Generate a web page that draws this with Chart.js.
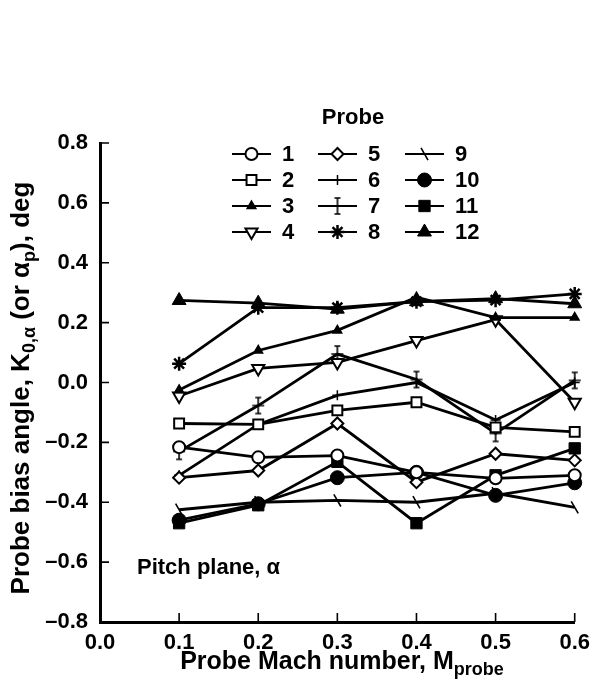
<!DOCTYPE html>
<html>
<head>
<meta charset="utf-8">
<title>Probe bias angle</title>
<script src="https://cdn.jsdelivr.net/npm/chart.js@4/dist/chart.umd.min.js"></script>
<style>
  body { margin: 0; background: #fff; }
  canvas { display: block; }
</style>
</head>
<body>
<canvas id="graphiqueSonde" width="598" height="687"></canvas>
<script>
// nombres de Mach des sondes (axe x)
const machProbe = [0.1, 0.2, 0.3, 0.4, 0.5, 0.6];

// angle de biais par sonde, deg (plan de tangage)
const probe1  = [-0.216, -0.250, -0.244, -0.300, -0.320, -0.310];
const probe2  = [-0.137, -0.140, -0.093, -0.066, -0.150, -0.165];
const probe3  = [-0.025,  0.107,  0.174,  0.285,  0.217,  0.217];
const probe4  = [-0.045,  0.047,  0.067,  0.140,  0.210, -0.066];
const probe5  = [-0.318, -0.294, -0.137, -0.333, -0.238, -0.260];
const probe6  = [-0.310, -0.140, -0.043,  0.000, -0.125,  0.000];
const probe7  = [-0.230, -0.077,  0.095,  0.010, -0.170,  0.007];
const probe8  = [ 0.063,  0.250,  0.250,  0.270,  0.275,  0.296];
const probe9  = [-0.425, -0.400, -0.394, -0.400, -0.370, -0.417];
const probe10 = [-0.460, -0.405, -0.318, -0.300, -0.377, -0.335];
const probe11 = [-0.470, -0.410, -0.265, -0.470, -0.310, -0.220];
const probe12 = [ 0.274,  0.265,  0.245,  0.270,  0.280,  0.263];

const probeNames = ['1', '2', '3', '4', '5', '6', '7', '8', '9', '10', '11', '12'];
const probeValues = [probe1, probe2, probe3, probe4, probe5, probe6,
                     probe7, probe8, probe9, probe10, probe11, probe12];

const police = '"Liberation Sans", Arial, sans-serif';

// symbole de la sonde 7 : croix avec barres
function croixBarres() {
    const c = document.createElement('canvas');
    c.width = 14;
    c.height = 20;
    const g = c.getContext('2d');
    g.strokeStyle = '#000';
    g.lineWidth = 1.6;
    g.beginPath();
    g.moveTo(7, 2); g.lineTo(7, 18);
    g.moveTo(4, 2); g.lineTo(10, 2);
    g.moveTo(4, 18); g.lineTo(10, 18);
    g.moveTo(1, 10); g.lineTo(13, 10);
    g.stroke();
    return c;
}

// style des symboles, un par sonde
const symboles = [
    { pointStyle: 'circle',   radius: 6, rotation: 0,   fill: '#fff', bw: 2 },
    { pointStyle: 'rect',     radius: 7, rotation: 0,   fill: '#fff', bw: 2 },
    { pointStyle: 'triangle', radius: 5, rotation: 0,   fill: '#000', bw: 1.5 },
    { pointStyle: 'triangle', radius: 7, rotation: 180, fill: '#fff', bw: 2 },
    { pointStyle: 'rectRot',  radius: 6, rotation: 0,   fill: '#fff', bw: 2 },
    { pointStyle: 'cross',    radius: 5, rotation: 0,   fill: '#000', bw: 1.5 },
    { pointStyle: croixBarres(), radius: 6, rotation: 0, fill: '#000', bw: 1.5 },
    { pointStyle: 'star',     radius: 7, rotation: 0,   fill: '#000', bw: 2.5 },
    { pointStyle: 'line',     radius: 7, rotation: 60,  fill: '#000', bw: 1.6 },
    { pointStyle: 'circle',   radius: 7, rotation: 0,   fill: '#000', bw: 1 },
    { pointStyle: 'rect',     radius: 8, rotation: 0,   fill: '#000', bw: 1 },
    { pointStyle: 'triangle', radius: 8, rotation: 0,   fill: '#000', bw: 1 }
];

const datasets = probeValues.map((valeurs, i) => ({
    label: probeNames[i],
    data: machProbe.map((m, j) => ({ x: m, y: valeurs[j] })),
    borderColor: '#000',
    borderWidth: 2.8,
    fill: false,
    tension: 0,
    clip: false,
    pointStyle: symboles[i].pointStyle,
    pointRadius: symboles[i].radius,
    pointRotation: symboles[i].rotation,
    pointBackgroundColor: symboles[i].fill,
    pointBorderColor: '#000',
    pointBorderWidth: symboles[i].bw
}));

// texte avec indices (sous-chaînes en petit et décalées vers le bas)
function texteIndice(ctx, morceaux, cx, cy, taille) {
    const normal = 'bold ' + taille + 'px ' + police;
    const petit = 'bold ' + Math.round(taille * 0.7) + 'px ' + police;
    let total = 0;
    morceaux.forEach(m => {
        ctx.font = m.sub ? petit : normal;
        total += ctx.measureText(m.t).width;
    });
    let x = cx - total / 2;
    ctx.textAlign = 'left';
    ctx.textBaseline = 'middle';
    morceaux.forEach(m => {
        ctx.font = m.sub ? petit : normal;
        ctx.fillText(m.t, x, m.sub ? cy + taille * 0.32 : cy);
        x += ctx.measureText(m.t).width;
    });
}

// traits de graduation vers l'intérieur, légende et titres
const habillage = {
    id: 'habillage',
    afterDraw(chart) {
        const ctx = chart.ctx;
        const area = chart.chartArea;
        const sx = chart.scales.x;
        const sy = chart.scales.y;
        ctx.save();
        ctx.strokeStyle = '#000';
        ctx.fillStyle = '#000';
        ctx.lineWidth = 1.6;
        ctx.beginPath();
        sy.ticks.forEach(t => {
            const y = sy.getPixelForValue(t.value);
            ctx.moveTo(area.left, y);
            ctx.lineTo(area.left + 9, y);
        });
        sx.ticks.forEach(t => {
            const x = sx.getPixelForValue(t.value);
            ctx.moveTo(x, area.bottom);
            ctx.lineTo(x, area.bottom - 9);
        });
        ctx.stroke();

        // légende en 3 colonnes de 4 lignes
        ctx.font = 'bold 22px ' + police;
        ctx.textAlign = 'center';
        ctx.textBaseline = 'middle';
        ctx.fillText('Probe', 353, 118);
        const colonnes = [232, 318, 405];
        const lignes = [154, 180, 206, 232];
        probeNames.forEach((nom, i) => {
            const x0 = colonnes[Math.floor(i / 4)];
            const y0 = lignes[i % 4];
            ctx.lineWidth = 2;
            ctx.beginPath();
            ctx.moveTo(x0, y0);
            ctx.lineTo(x0 + 39, y0);
            ctx.stroke();
            const s = symboles[i];
            ctx.fillStyle = s.fill;
            ctx.lineWidth = s.bw;
            Chart.helpers.drawPoint(ctx, {
                pointStyle: s.pointStyle,
                radius: s.radius,
                rotation: s.rotation,
                borderWidth: s.bw
            }, x0 + 19.5, y0);
            ctx.fillStyle = '#000';
            ctx.textAlign = 'left';
            ctx.font = 'bold 22px ' + police;
            ctx.fillText(nom, x0 + 50, y0 + 1);
        });

        ctx.textAlign = 'left';
        ctx.fillText('Pitch plane, \u03b1', 137, 568);

        // titre de l'axe x
        texteIndice(ctx, [
            { t: 'Probe Mach number, M' },
            { t: 'probe', sub: true }
        ], 342, 662, 25);

        // titre de l'axe y, tourné
        ctx.translate(22, 388);
        ctx.rotate(-Math.PI / 2);
        texteIndice(ctx, [
            { t: 'Probe bias angle, K' },
            { t: '0,\u03b1', sub: true },
            { t: ' (or \u03b1' },
            { t: 'p', sub: true },
            { t: '), deg' }
        ], 0, 0, 26);
        ctx.restore();
    }
};

const ctx = document.getElementById('graphiqueSonde').getContext('2d');
const graphique = new Chart(ctx, {
    type: 'line',
    data: { datasets: datasets },
    options: {
        responsive: false,
        animation: false,
        layout: { padding: { top: 143, right: 19, left: 0, bottom: 0 } },
        plugins: {
            legend: { display: false },
            tooltip: { enabled: false }
        },
        scales: {
            x: {
                type: 'linear',
                min: 0,
                max: 0.6,
                afterFit: scale => { scale.height = 65; },
                border: { display: true, color: '#000', width: 3 },
                grid: { display: true, drawOnChartArea: false, drawTicks: false },
                ticks: {
                    stepSize: 0.1,
                    padding: 8,
                    color: '#000',
                    font: { family: police, size: 22, weight: 'bold' },
                    callback: v => v.toFixed(1)
                }
            },
            y: {
                min: -0.8,
                max: 0.8,
                afterFit: scale => { scale.width = 100; },
                border: { display: true, color: '#000', width: 3 },
                grid: { display: true, drawOnChartArea: false, drawTicks: false },
                ticks: {
                    stepSize: 0.2,
                    padding: 12,
                    color: '#000',
                    font: { family: police, size: 22, weight: 'bold' },
                    callback: v => (v < -1e-9 ? '\u2013' : '') + Math.abs(v).toFixed(1)
                }
            }
        }
    },
    plugins: [habillage]
});
</script>
</body>
</html>
